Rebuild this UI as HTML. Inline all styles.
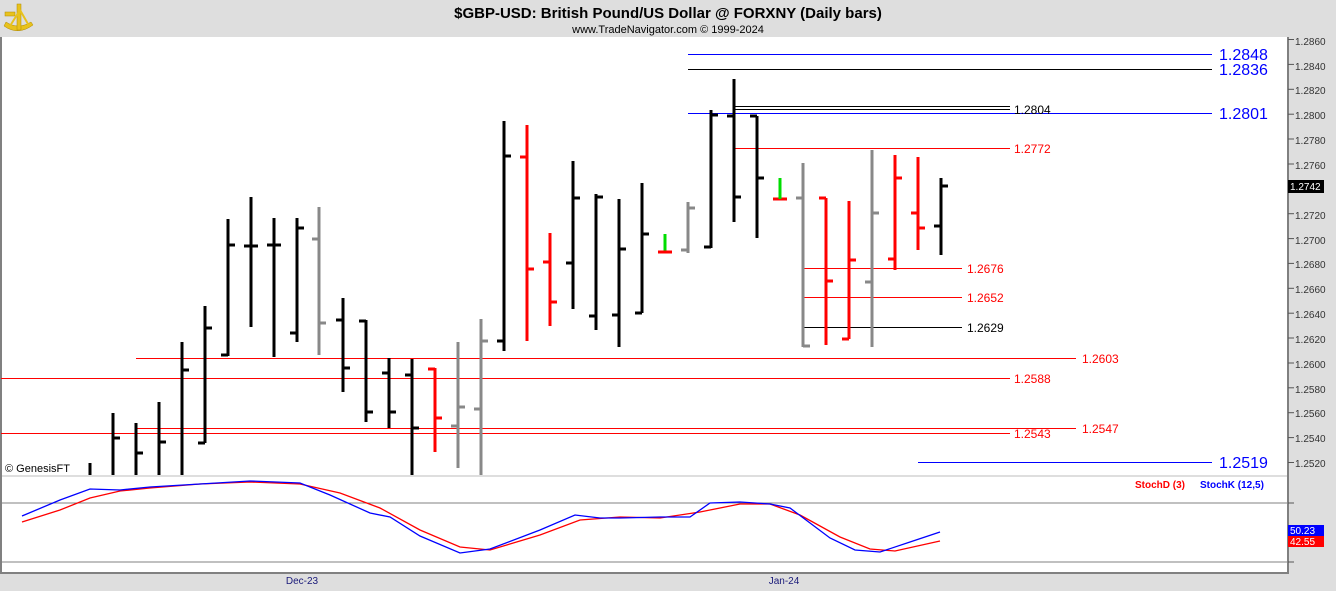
<!DOCTYPE html>
<html><head><meta charset="utf-8"><style>
body{margin:0;background:#dedede;width:1336px;height:591px;overflow:hidden;font-family:"Liberation Sans",sans-serif}
svg{display:block}
</style></head><body>
<svg width="1336" height="591" xmlns="http://www.w3.org/2000/svg" font-family="Liberation Sans, sans-serif">
<rect width="1336" height="591" fill="#dedede"/>
<g fill="#e8c21c" stroke="#b08a00" stroke-width="0.5">
<path d="M4 26 Q18 36 33 25 L31 22 Q18 30 6 22Z"/>
<rect x="17" y="4" width="4" height="26"/>
<rect x="5" y="12" width="10" height="4"/>
<line x1="10" y1="26" x2="20" y2="10" stroke="#e8c21c" stroke-width="2"/>
<line x1="28" y1="24" x2="20" y2="10" stroke="#e8c21c" stroke-width="2"/>
</g>
<text x="668" y="18" text-anchor="middle" font-size="15" font-weight="bold">$GBP-USD:  British Pound/US Dollar @ FORXNY  (Daily bars)</text>
<text x="668" y="33" text-anchor="middle" font-size="11">www.TradeNavigator.com © 1999-2024</text>
<rect x="1" y="37" width="1287" height="438" fill="#fff"/>
<rect x="1" y="477" width="1287" height="96" fill="#fff"/>
<line x1="1" y1="37" x2="1" y2="573" stroke="#808080" stroke-width="2"/>
<line x1="1288" y1="37" x2="1288" y2="573" stroke="#808080" stroke-width="2"/>
<line x1="0" y1="573" x2="1289" y2="573" stroke="#808080" stroke-width="2"/>
<line x1="1" y1="503" x2="1288" y2="503" stroke="#808080"/>
<line x1="1" y1="562" x2="1288" y2="562" stroke="#808080"/>
<g font-size="10" fill="#333">
<text x="1295" y="45">1.2860</text><text x="1295" y="70">1.2840</text><text x="1295" y="94">1.2820</text><text x="1295" y="119">1.2800</text><text x="1295" y="144">1.2780</text><text x="1295" y="169">1.2760</text><text x="1295" y="219">1.2720</text><text x="1295" y="244">1.2700</text><text x="1295" y="268">1.2680</text><text x="1295" y="293">1.2660</text><text x="1295" y="318">1.2640</text><text x="1295" y="343">1.2620</text><text x="1295" y="368">1.2600</text><text x="1295" y="393">1.2580</text><text x="1295" y="417">1.2560</text><text x="1295" y="442">1.2540</text><text x="1295" y="467">1.2520</text>
</g>
<g stroke="#555">
<line x1="1288" y1="39.5" x2="1294" y2="39.5"/><line x1="1288" y1="64.4" x2="1294" y2="64.4"/><line x1="1288" y1="89.3" x2="1294" y2="89.3"/><line x1="1288" y1="114.2" x2="1294" y2="114.2"/><line x1="1288" y1="139" x2="1294" y2="139"/><line x1="1288" y1="164" x2="1294" y2="164"/><line x1="1288" y1="188.8" x2="1294" y2="188.8"/><line x1="1288" y1="213.7" x2="1294" y2="213.7"/><line x1="1288" y1="238.6" x2="1294" y2="238.6"/><line x1="1288" y1="263.4" x2="1294" y2="263.4"/><line x1="1288" y1="288.3" x2="1294" y2="288.3"/><line x1="1288" y1="313.2" x2="1294" y2="313.2"/><line x1="1288" y1="338" x2="1294" y2="338"/><line x1="1288" y1="363" x2="1294" y2="363"/><line x1="1288" y1="387.8" x2="1294" y2="387.8"/><line x1="1288" y1="412.7" x2="1294" y2="412.7"/><line x1="1288" y1="437.6" x2="1294" y2="437.6"/><line x1="1288" y1="462.5" x2="1294" y2="462.5"/>
<line x1="1288" y1="503" x2="1294" y2="503"/><line x1="1288" y1="533" x2="1294" y2="533"/><line x1="1288" y1="562" x2="1294" y2="562"/>
</g>
<rect x="1288" y="180" width="36" height="13" fill="#000"/><text x="1290" y="190" font-size="10" fill="#fff">1.2742</text>
<rect x="1288" y="525" width="36" height="11" fill="#00f"/><text x="1290" y="534" font-size="10" fill="#fff">50.23</text>
<rect x="1288" y="536" width="36" height="11" fill="#f00"/><text x="1290" y="545" font-size="10" fill="#fff">42.55</text>
<g stroke-width="1">
<line x1="688" y1="54.5" x2="1212" y2="54.5" stroke="#00f"/>
<line x1="688" y1="69.5" x2="1212" y2="69.5" stroke="#000"/>
<line x1="734" y1="106.5" x2="1010" y2="106.5" stroke="#000"/>
<line x1="734" y1="109.5" x2="1010" y2="109.5" stroke="#000"/>
<line x1="688" y1="113.5" x2="1212" y2="113.5" stroke="#00f"/>
<line x1="734" y1="148.5" x2="1010" y2="148.5" stroke="#f00"/>
<line x1="803" y1="268.5" x2="962" y2="268.5" stroke="#f00"/>
<line x1="803" y1="297.5" x2="962" y2="297.5" stroke="#f00"/>
<line x1="803" y1="327.5" x2="962" y2="327.5" stroke="#000"/>
<line x1="136" y1="358.5" x2="1076" y2="358.5" stroke="#f00"/>
<line x1="1" y1="378.5" x2="1010" y2="378.5" stroke="#f00"/>
<line x1="136" y1="428.5" x2="1076" y2="428.5" stroke="#f00"/>
<line x1="1" y1="433.5" x2="1010" y2="433.5" stroke="#f00"/>
<line x1="918" y1="462.5" x2="1212" y2="462.5" stroke="#00f"/>
</g>
<g font-size="16" fill="#00f">
<text x="1219" y="60">1.2848</text><text x="1219" y="75">1.2836</text><text x="1219" y="119">1.2801</text><text x="1219" y="468">1.2519</text>
</g>
<g font-size="12">
<text x="1014" y="114" fill="#000">1.2804</text>
<text x="1014" y="153" fill="#f00">1.2772</text>
<text x="967" y="273" fill="#f00">1.2676</text>
<text x="967" y="302" fill="#f00">1.2652</text>
<text x="967" y="332" fill="#000">1.2629</text>
<text x="1082" y="363" fill="#f00">1.2603</text>
<text x="1014" y="383" fill="#f00">1.2588</text>
<text x="1082" y="433" fill="#f00">1.2547</text>
<text x="1014" y="438" fill="#f00">1.2543</text>
</g>
<g stroke-width="3">
<path stroke="#000" d="M90 463V475 M113 413V475 M113 438H120 M136 423V475 M136 453H143 M159 402V475 M159 442H166 M182 342V475 M182 370H189 M205 306V443 M198 443H205 M205 328H212 M228 219V356 M221 355H228 M228 245H235 M251 197V327 M244 246H251 M251 246H258 M274 218V357 M267 245H274 M274 245H281 M297 218V342 M290 333H297 M297 228H304 M343 298V392 M336 320H343 M343 368H350 M366 320V422 M359 321H366 M366 412H373 M389 358V428 M382 373H389 M389 412H396 M412 359V475 M405 375H412 M412 428H419 M504 121V351 M497 341H504 M504 156H511 M573 161V309 M566 263H573 M573 198H580 M596 194V330 M589 316H596 M596 197H603 M619 199V347 M612 315H619 M619 249H626 M642 183V313 M635 313H642 M642 234H649 M711 110V248 M704 247H711 M711 115H718 M734 79V222 M727 116H734 M734 197H741 M757 116V238 M750 116H757 M757 178H764 M941 178V255 M934 226H941 M941 186H948"/>
<path stroke="#888" d="M319 207V355 M312 239H319 M319 323H326 M458 342V468 M451 426H458 M458 407H465 M481 319V475 M474 409H481 M481 341H488 M688 202V253 M681 250H688 M688 208H695 M803 163V347 M796 198H803 M803 346H810 M872 150V347 M865 282H872 M872 213H879"/>
<path stroke="#f00" d="M435 368V452 M428 369H435 M435 418H442 M527 125V341 M520 157H527 M527 269H534 M550 233V326 M543 262H550 M550 302H557 M826 198V345 M819 198H826 M826 281H833 M849 201V339 M842 339H849 M849 260H856 M895 155V270 M888 259H895 M895 178H902 M918 157V250 M911 213H918 M918 228H925 M773 199H787"/>
<path stroke="#0d0" d="M665 234V252 M780 178V199"/>
<path stroke="#f00" d="M658 252H672"/>
</g>
<text x="5" y="472" font-size="11" fill="#000">© GenesisFT</text>
<text x="1135" y="488" font-size="10" font-weight="bold" fill="#f00">StochD (3)</text>
<text x="1200" y="488" font-size="10" font-weight="bold" fill="#00f">StochK (12,5)</text>
<polyline fill="none" stroke="#f00" stroke-width="1.3" points="22,522 60,510 90,498 120,491 150,488 200,484 250,482 300,484 340,493 380,508 420,530 460,547 490,550 540,535 580,520 620,517 660,518 700,512 740,504 770,504 800,515 840,537 870,549 895,551 940,541"/>
<polyline fill="none" stroke="#00f" stroke-width="1.3" points="22,516 60,500 90,489 120,490 150,487 200,484 250,481 300,483 330,495 370,513 390,517 420,536 460,553 490,549 540,530 575,515 600,518 620,518 660,517 690,517 710,503 740,502 770,504 790,508 830,538 855,550 880,552 910,542 940,532"/>
<text x="302" y="584" font-size="10" fill="#1a1a7a" text-anchor="middle">Dec-23</text>
<text x="784" y="584" font-size="10" fill="#1a1a7a" text-anchor="middle">Jan-24</text>
</svg>
</body></html>
